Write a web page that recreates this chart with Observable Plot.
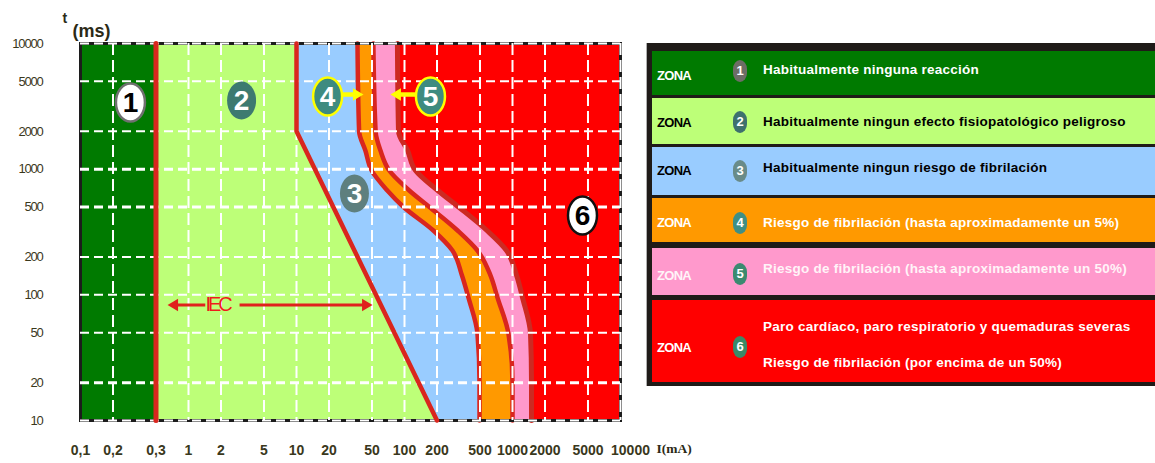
<!DOCTYPE html>
<html><head><meta charset="utf-8">
<script src="https://cdn.jsdelivr.net/npm/d3@7"></script>
<script src="https://cdn.jsdelivr.net/npm/@observablehq/plot@0.6"></script>
<style>
html,body{margin:0;padding:0;background:#fff;}
#wrap{position:relative;width:1155px;height:463px;overflow:hidden;font-family:"Liberation Sans",Arial,sans-serif;}
#chart{position:absolute;left:0;top:0;}
#legend{position:absolute;left:647px;top:43px;width:520px;height:343px;background:#1f1b18;box-shadow:-1px 0 0 #b0b0b0;}
.row{position:absolute;left:5px;right:0;}
.zona{position:absolute;left:5px;font-weight:bold;font-size:13px;letter-spacing:-0.7px;transform:translateY(-50%);line-height:1;}
.badge{position:absolute;left:81px;width:14px;height:22px;border-radius:7px/9px;color:#fff;font-weight:bold;font-size:13px;line-height:22px;text-align:center;transform:translateY(-50%);}
.desc{position:absolute;left:111px;font-weight:bold;font-size:13.5px;letter-spacing:0.25px;white-space:nowrap;transform:translateY(-50%);line-height:1;}
.ylab text{letter-spacing:-1.2px;}
.iec text{letter-spacing:-3px;}
</style></head><body>
<div id="wrap"><div id="chart"></div><div id="legend"></div></div>
<script>
// ---------- data ----------
const xTicks = [0.1, 0.2, 0.5, 1, 2, 5, 10, 20, 50, 100, 200, 500, 1000, 2000, 5000, 10000];
const xTickLabels = ["0,1","0,2","0,3","1","2","5","10","20","50","100","200","500","1000","2000","5000","10000"];
const yTicks = [10, 20, 50, 100, 200, 500, 1000, 2000, 5000, 10000];

// boundary curves c1, c2, c3 (current in mA at each time in ms)
const curveT = [10000, 2000, 1400, 980, 680, 500, 325, 225, 143, 95, 49, 20, 10];
const c1I = [36.7, 38, 43.5, 49.5, 69, 98, 185, 278, 340, 391, 474, 495, 495];
const c2I = [51.5, 54, 60, 72, 110, 170, 310, 474, 625, 726, 918, 1000, 1000];
const c3I = [86, 88, 107, 126, 202, 317, 580, 880, 1090, 1238, 1468, 1500, 1500];
// boundary b
const bT = [10000, 2000, 10];
const bI = [10, 10, 200];
// boundary a
const aT = [10000, 10];
const aI = [0.5, 0.5];

// zone badges in the chart
const zoneNums = [1, 2, 3, 4, 5, 6];
const badgeI = [0.29, 3.1, 34.4, 19.4, 174, 4446];
const badgeT = [3395, 3525, 641, 3787, 3787, 428];

// annotation arrows
const arrowFrom = [26.7, 126, 1.43, 2.97];
const arrowTo = [41.7, 74.1, 0.64, 50.6];
const arrowT = [3927, 3927, 83, 83];
const iecLabel = "IEC";
const iecI = 1.9;
const iecT = 83;

// legend
const zoneWord = "ZONA";
const zoneTexts = [
  ["Habitualmente ninguna reacción"],
  ["Habitualmente ningun efecto fisiopatológico peligroso"],
  ["Habitualmente ningun riesgo de fibrilación"],
  ["Riesgo de fibrilación (hasta aproximadamente un 5%)"],
  ["Riesgo de fibrilación (hasta aproximadamente un 50%)"],
  ["Paro cardíaco, paro respiratorio y quemaduras severas", "Riesgo de fibrilación (por encima de un 50%)"]
];
const yLabelT = "t", yLabelMs = "(ms)", xLabel = "I(mA)";

// ---------- styles ----------
const zoneFill = ["#007a00", "#bdff78", "#99ccff", "#ff9900", "#ff99cc", "#ff0000"];
const lineRed = "#d9261e", lineRed3 = "#cc2a22";
const badgeFill = ["#ffffff", "#3d7a70", "#5e7f7e", "#3e8b80", "#3e8b80", "#ffffff"];
const badgeStroke = ["#707070", "none", "none", "#ffff00", "#ffff00", "#111111"];
const badgeTextFill = ["#000", "#fff", "#fff", "#fff", "#fff", "#000"];
const arrowColor = ["#ffff00", "#ffff00", "#e0221c", "#e0221c"];
const legendBadge = ["#6d6d66", "#3e706e", "#698b89", "#3f8f85", "#3b8a70", "#3b8a68"];
const legendText = ["#fff", "#000", "#000", "#fff", "#fff4f8", "#fff"];
const rowLayout = [
  {top: 7.7, h: 44.3, desc: [19.3], zona: 24.3, badge: 20.3},
  {top: 55.3, h: 45.7, desc: [23.7], zona: 23.7, badge: 23.7},
  {top: 104.3, h: 47.7, desc: [20.7], zona: 22.7, badge: 24},
  {top: 155.3, h: 43.4, desc: [24.7], zona: 23.4, badge: 24.7},
  {top: 205.3, h: 46.7, desc: [21], zona: 26.7, badge: 25.7},
  {top: 257, h: 81.7, desc: [27, 63], zona: 47, badge: 47}
];

// ---------- tables ----------
const curves = curveT.map((t, i) => ({t, c1: c1I[i], c2: c2I[i], c3: c3I[i]}));
const lineB = bT.map((t, i) => ({t, x: bI[i]}));
const lineA = aT.map((t, i) => ({t, x: aI[i]}));
const badges = zoneNums.map((z, i) => ({z, x: badgeI[i], t: badgeT[i]}));
const arrows = arrowFrom.map((f, i) => ({x1: f, x2: arrowTo[i], t: arrowT[i], i}));
const xLabelsTable = xTicks.map((v, i) => ({v, label: xTickLabels[i], last: i === xTicks.length - 1}));

// custom symbols
const ellipseSym = (rx, ry) => ({draw(ctx) {
  const k = 0.5523;
  ctx.moveTo(rx, 0);
  ctx.bezierCurveTo(rx, k * ry, k * rx, ry, 0, ry);
  ctx.bezierCurveTo(-k * rx, ry, -rx, k * ry, -rx, 0);
  ctx.bezierCurveTo(-rx, -k * ry, -k * rx, -ry, 0, -ry);
  ctx.bezierCurveTo(k * rx, -ry, rx, -k * ry, rx, 0);
  ctx.closePath();
}});
const headSym = (dir, L, W) => ({draw(ctx) {
  ctx.moveTo(0, 0);
  ctx.lineTo(-dir * L, -W / 2);
  ctx.lineTo(-dir * L, W / 2);
  ctx.closePath();
}});

const curve = "monotone-y";
const thickY = new Set([20, 500, 1000]);
const dark = "#3a381c";
const sans = "'Liberation Sans', Arial, sans-serif";
const xLabelStyle = {frameAnchor: "bottom", text: "label", dy: 34, fontSize: 14, fontWeight: "bold", fill: dark};

const chart = Plot.plot({
  width: 700, height: 463,
  marginLeft: 80, marginRight: 80, marginTop: 43, marginBottom: 43,
  x: {type: "log", domain: [0.1, 10000], axis: null},
  y: {type: "log", domain: [10, 10000], axis: null},
  color: {type: "identity"},
  style: {fontFamily: sans, background: "white", overflow: "visible"},
  marks: [
    Plot.frame({fill: zoneFill[5]}),
    Plot.areaX(curves, {x1: 0.1, x2: "c3", y: "t", fill: zoneFill[4], curve}),
    Plot.areaX(curves, {x1: 0.1, x2: "c2", y: "t", fill: zoneFill[3], curve}),
    Plot.areaX(curves, {x1: 0.1, x2: "c1", y: "t", fill: zoneFill[2], curve}),
    Plot.areaX(lineB, {x1: 0.1, x2: "x", y: "t", fill: zoneFill[1]}),
    Plot.areaX(lineA, {x1: 0.1, x2: "x", y: "t", fill: zoneFill[0]}),
    Plot.line(curves, {x: "c3", y: "t", stroke: lineRed3, strokeWidth: 5, curve}),
    Plot.line(curves, {x: "c2", y: "t", stroke: lineRed, strokeWidth: 4.5, curve}),
    Plot.line(curves, {x: "c1", y: "t", stroke: lineRed, strokeWidth: 4.5, curve}),
    Plot.frame({stroke: "#1c1c1c", strokeWidth: 3}),
    Plot.ruleY(yTicks.filter(d => !thickY.has(d)), {y: d => d, stroke: "#fff", strokeWidth: 2, strokeDasharray: "9,5"}),
    Plot.ruleY(yTicks.filter(d => thickY.has(d)), {y: d => d, stroke: "#fff", strokeWidth: 3, strokeDasharray: "9,5"}),
    Plot.ruleX(xTicks.filter(d => d !== 0.1 && d !== 0.5), {x: d => d, stroke: "#fff", strokeWidth: 2, strokeDasharray: "12,5"}),
    Plot.line(lineB, {x: "x", y: "t", stroke: lineRed, strokeWidth: 4.5}),
    Plot.line(lineA, {x: "x", y: "t", stroke: lineRed, strokeWidth: 5}),
    // badges
    Plot.dot(badges, {x: "x", y: "t", symbol: ellipseSym(14.5, 19), fill: d => badgeFill[d.z - 1], stroke: d => badgeStroke[d.z - 1], strokeWidth: 2.5}),
    Plot.text(badges, {x: "x", y: "t", text: d => String(d.z), fill: d => badgeTextFill[d.z - 1], fontSize: 28, fontWeight: "bold", dy: 1}),
    // arrows
    Plot.arrow(arrows, {x1: "x1", x2: "x2", y1: "t", y2: "t", stroke: d => arrowColor[d.i], strokeWidth: d => d.i < 2 ? 4.5 : 3, headLength: 0, insetEnd: 8, strokeLinecap: "butt"}),
    Plot.dot(arrows.filter(d => d.x2 > d.x1), {x: "x2", y: "t", symbol: headSym(1, 10.5, 12.5), fill: d => arrowColor[d.i], stroke: "none"}),
    Plot.dot(arrows.filter(d => d.x2 < d.x1), {x: "x2", y: "t", symbol: headSym(-1, 10.5, 12.5), fill: d => arrowColor[d.i], stroke: "none"}),
    Plot.text([iecLabel], {x: iecI, y: iecT, text: d => d, fill: "#ee1c1c", fontSize: 20, fontFamily: sans, className: "iec", dx: -1}),
    // axis tick labels
    Plot.text(xLabelsTable.filter(d => !d.last), {x: "v", ...xLabelStyle}),
    Plot.text(xLabelsTable.filter(d => d.last), {x: "v", ...xLabelStyle, dx: 10}),
    Plot.text(yTicks, {y: d => d, frameAnchor: "left", text: d => String(d), dx: -38, textAnchor: "end", fontSize: 13, fill: dark, className: "ylab"}),
    // axis titles
    Plot.text([yLabelT], {frameAnchor: "top-left", text: d => d, dx: -18, dy: -30, fontSize: 14, fontWeight: "bold", fill: "#2b2a16"}),
    Plot.text([yLabelMs], {frameAnchor: "top-left", text: d => d, dx: -8, dy: -19, textAnchor: "start", fontSize: 18, fontWeight: "bold", fill: "#2b2a16"}),
    Plot.text([xLabel], {frameAnchor: "bottom-right", text: d => d, dx: 36, dy: 32, textAnchor: "start", fontSize: 13.5, fontWeight: "bold", fontFamily: "'Liberation Serif', serif", fill: "#2b2a16"})
  ]
});
document.getElementById("chart").appendChild(chart);

// ---------- legend table ----------
const legend = document.getElementById("legend");
rowLayout.forEach((L, i) => {
  const row = document.createElement("div");
  row.className = "row";
  row.style.top = L.top + "px";
  row.style.height = L.h + "px";
  row.style.background = zoneFill[i];
  const z = document.createElement("div");
  z.className = "zona";
  z.textContent = zoneWord;
  z.style.top = L.zona + "px";
  z.style.color = legendText[i];
  row.appendChild(z);
  const b = document.createElement("div");
  b.className = "badge";
  b.textContent = String(zoneNums[i]);
  b.style.top = L.badge + "px";
  b.style.background = legendBadge[i];
  row.appendChild(b);
  zoneTexts[i].forEach((t, j) => {
    const d = document.createElement("div");
    d.className = "desc";
    d.textContent = t;
    d.style.top = L.desc[j] + "px";
    d.style.color = legendText[i];
    row.appendChild(d);
  });
  legend.appendChild(row);
});
</script>
</body></html>
